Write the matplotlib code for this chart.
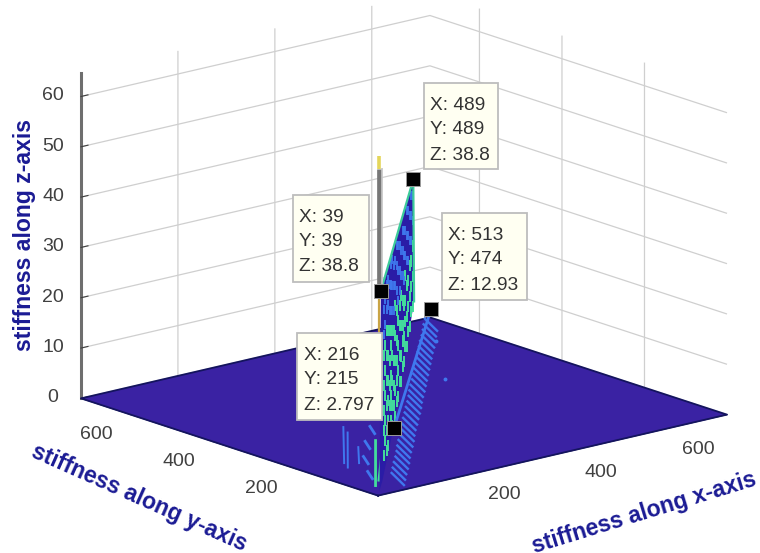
import matplotlib
matplotlib.use("Agg")
import matplotlib.pyplot as plt
from matplotlib.patches import Rectangle
from mpl_toolkits.mplot3d import proj3d
from mpl_toolkits.mplot3d.art3d import Poly3DCollection
import numpy as np

# ---------- data ----------
x_limits = [0, 720]
y_limits = [0, 720]
z_limits = [0, 64.6]
x_ticks = [200, 400, 600]
y_ticks = [200, 400, 600]
z_ticks = [0, 10, 20, 30, 40, 50, 60]

tip_x = [489, 513, 39, 216]
tip_y = [489, 474, 39, 215]
tip_z = ["38.8", "12.93", "38.8", "2.797"]
tip_z_val = [38.8, 12.93, 38.8, 2.797]

# diagonal sheet (x = y = t): outline
sheet_t = [20, 39, 489, 500, 216, 60]
sheet_z = [0, 38.8, 38.8, 14, 3, 0]

# dashes on the sheet
green_t = [80]*5 + [100]*5 + [120]*6 + [140]*6 + [160]*5 + [180]*5 + [200]*5 + [220]*5 + [240]*5 + [260]*5 + [280]*4 + [300]*4 + [320]*4 + [340]*4 + [360]*3 + [380]*4 + [400]*3 + [420]*3 + [440]*3 + [460]*3 + [480]*3
green_z = [4, 9, 13, 18, 24,  6, 10, 15, 20, 25,  3, 7, 12, 17, 22, 27,  3, 8, 12, 16, 21, 26,
           5, 10, 14, 19, 25,  6, 11, 15, 21, 24,  4, 8, 13, 18, 23,  3, 7, 11, 16, 22,
           4, 9, 15, 20, 26,  6, 10, 14, 18, 24,  6, 11, 16, 21,  8, 13, 19, 23,  7, 12, 18, 24,
           9, 14, 17, 22,  9, 14, 20,  11, 16, 20, 25,  10, 16, 22,  12, 17, 22,  12, 18, 24,
           14, 19, 24,  14, 20, 26]
blue_t = [80]*2 + [100]*2 + [120]*2 + [140]*2 + [160]*2 + [180]*3 + [200]*3 + [220]*3 + [240]*2 + [260]*3 + [280]*3 + [300]*3 + [320]*2 + [340]*3 + [360]*3 + [380]*2 + [400]*3 + [420]*3 + [440]*2 + [460]*3 + [480]*2
blue_z = [28, 33,  29, 34,  31, 36,  31, 36,  29, 34,  28, 33, 37,  27, 32, 37,  26, 31, 35,
          30, 35,  28, 33, 37,  25, 31, 36,  26, 30, 35,  28, 33,  27, 32, 36,  25, 30, 35,
          29, 34,  27, 32, 37,  26, 31, 36,  29, 34,  28, 33, 37,  31, 36]

# spike near the front corner
spike_t = [20, 20]
spike_gray_z = [38.8, 64]
spike_tip_z = [64, 66.5]

# ridge through two of the marked points
ridge_x = [513, 216]
ridge_y = [474, 215]
ridge_z = [12.93, 2.797]

# light dashes on the floor, right of the sheet
band_x = [694, 672, 651, 629, 607, 585, 564, 542, 520, 498, 477, 455, 433, 411, 390, 368, 346, 324,
          302, 280, 259, 237, 215, 193, 172, 150, 128, 106, 85]
band_y = [687, 664, 641, 618, 596, 573, 551, 528, 505, 482, 460, 437, 415, 392, 369, 346, 324, 301,
          279, 256, 233, 210, 188, 165, 142, 119, 97, 74, 52]
# light dashes left of the sheet
left_x = [235, 174, 116, 66]
left_y = [290, 230, 166, 97]
# straight streaks on the floor (start x, start y, end x, end y)
streak_x0 = [211, 196, 155]
streak_y0 = [332, 304, 230]
streak_x1 = [79, 67, 97]
streak_y1 = [175, 152, 160]
green_x0 = [200, 211]
green_y0 = [241, 235]
green_x1 = [34, 58]
green_y1 = [46, 66]
dot_x = [511, 640]
dot_y = [439, 612]

# ---------- colours ----------
FLOOR = "#3A22A3"
BODY = "#2A1CA6"
GREEN = "#43DE9C"
LIGHT = "#3F78EE"
LABEL = "#1B1B94"
TICK = "#404040"
GRID = "#CFCFCF"

plt.rcParams["font.family"] = ["Liberation Sans", "DejaVu Sans"]
W, H = 760, 553
fig = plt.figure(figsize=(W / 100, H / 100), dpi=100)
ax = fig.add_axes([0.1, 0.1, 0.6, 0.6 * W / H], projection="3d", computed_zorder=False)
ax.set_proj_type("ortho")
ax.view_init(elev=16, azim=-130.1)
ax.set_box_aspect((456, 461, 338))
ax.set_xlim(*x_limits)
ax.set_ylim(*y_limits)
ax.set_zlim(*z_limits)
ax.set_xticks(x_ticks)
ax.set_yticks(y_ticks)
ax.set_zticks(z_ticks)

for axis in (ax.xaxis, ax.yaxis, ax.zaxis):
    axis.set_pane_color((1, 1, 1, 0))
    axis.pane.set_edgecolor((1, 1, 1, 0))
    axis._axinfo["grid"].update(color=GRID, linewidth=0.9)
    axis._axinfo["tick"].update(inward_factor=0.0, outward_factor=0.25)
    axis._axinfo["tick"]["color"] = "#404040"
    axis.line.set_color("#202060")
ax.zaxis.line.set_color("#6E6E6E")
ax.zaxis.line.set_linewidth(2.2)
ax.tick_params(axis="x", labelsize=14, colors=TICK, pad=18)
ax.tick_params(axis="y", labelsize=14, colors=TICK, pad=18)
ax.tick_params(axis="z", labelsize=14, colors=TICK, pad=3.5)
for lab in ax.get_zticklabels():
    lab.set_va("center")

# floor
fx, fy = np.meshgrid(x_limits, y_limits)
ax.plot_surface(fx, fy, np.zeros_like(fx, dtype=float), color=FLOOR, shade=False,
                linewidth=0, antialiased=True, zorder=2)
ax.plot([x_limits[0], x_limits[1], x_limits[1], x_limits[0], x_limits[0]],
        [y_limits[0], y_limits[0], y_limits[1], y_limits[1], y_limits[0]],
        [0, 0, 0, 0, 0], color="#14145E", lw=1.3, zorder=2.1)

# floor streaks and dashes
for a, b, c, d in zip(streak_x0, streak_y0, streak_x1, streak_y1):
    ax.plot([a, c], [b, d], [0, 0], color=LIGHT, lw=1.4, zorder=3)
for x, y in zip(band_x, band_y):
    ax.plot([x + 17, x - 17], [y + 37, y - 37], [0, 0], color=LIGHT, lw=1.7,
            solid_capstyle="butt", zorder=3)
for x, y in zip(left_x, left_y):
    ax.plot([x + 14, x - 14], [y + 24, y - 24], [0, 0], color=LIGHT, lw=2.0,
            solid_capstyle="butt", zorder=3)
ax.plot(dot_x, dot_y, [0, 0], ls="none", marker="o", ms=1.8, color=LIGHT, zorder=3)
for a, b, c, d in zip(green_x0, green_y0, green_x1, green_y1):
    ax.plot([a, c], [b, d], [0, 0], color=GREEN, lw=2.0, zorder=3)

# sheet
verts = [list(zip(sheet_t, sheet_t, sheet_z))]
ax.add_collection3d(Poly3DCollection(verts, facecolor=BODY, edgecolor="none", zorder=4))
for t, z in zip(green_t, green_z):
    ax.plot([t, t], [t, t], [z - 1.1, z + 1.1], color=GREEN, lw=1.4, solid_capstyle="butt", zorder=5)
for t, z in zip(blue_t, blue_z):
    ax.plot([t, t], [t, t], [z - 0.9, z + 0.9], color=LIGHT, lw=1.3, solid_capstyle="butt", zorder=5)
ax.plot(sheet_t[1:4], sheet_t[1:4], sheet_z[1:4], color="#3CCB9A", lw=1.6, zorder=5.5)
ax.plot(ridge_x, ridge_y, ridge_z, color=LIGHT, lw=2.0, zorder=5.5)

# spike
ax.plot(spike_t, spike_t, spike_gray_z, color="#777777", lw=3.4, solid_capstyle="butt", zorder=6)
ax.plot([26, 26], [20, 20], spike_gray_z, color="#C4C4C4", lw=1.2, solid_capstyle="butt", zorder=6)
ax.plot(spike_t, spike_t, spike_tip_z, color="#E4D65A", lw=2.6, solid_capstyle="butt", zorder=6)
ax.plot([20, 20], [20, 20], [30, 38.8], color="#C9A445", lw=1.6, zorder=6)

# data tip markers
ax.plot(tip_x, tip_y, tip_z_val, ls="none", marker="s", ms=9.6, mfc="black", mec="#9A9A9A",
        mew=0.7, zorder=8)

# axis labels
lab_font = dict(fontsize=16.6, fontweight="bold", color=LABEL)
ax.set_xlabel("stiffness along x-axis", rotation=17, labelpad=0, **lab_font)
ax.set_ylabel("stiffness along y-axis", rotation=-24, labelpad=0, **lab_font)
ax.set_zlabel("stiffness along z-axis", rotation=90, labelpad=0, **lab_font)
ax.xaxis.set_rotate_label(False)
ax.yaxis.set_rotate_label(False)
ax.zaxis.set_rotate_label(False)

# place the axes so the box corners land where they do in the picture
corner_xyz = np.array([[0, 720, 720], [720, 0, 0], [0, 720, 0], [0, 0, 0]], dtype=float)


def corners_display():
    fig.canvas.draw()
    u, v, _ = proj3d.proj_transform(corner_xyz[:, 0], corner_xyz[:, 1], [0, 0, 0, 0], ax.get_proj())
    return ax.transData.transform(np.column_stack([u, v]))


for _ in range(3):
    pts = corners_display()
    pos = ax.get_position()
    side = pos.width * W
    tl = np.array([81, H - 398.0])
    tr = np.array([727, H - 415.0])
    scale = (tr[0] - tl[0]) / (pts[1, 0] - pts[2, 0])
    new_side = side * scale
    cx = pos.x0 * W + side / 2
    cy = pos.y0 * H + side / 2
    mid_now = (pts[1] + pts[2]) / 2
    new_mid = np.array([cx, cy]) + (mid_now - np.array([cx, cy])) * scale
    shift = (tl + tr) / 2 - new_mid
    cx += shift[0]
    cy += shift[1]
    ax.set_position([(cx - new_side / 2) / W, (cy - new_side / 2) / H, new_side / W, new_side / H])

fig.canvas.draw()

# 3D axes only offer a pad along the tick direction, so nudge labels in pixels at draw time
inv = ax.transData.inverted()


def nudged(label, dx, dy):
    original = label.draw
    ox, oy = inv.transform((dx, dy)) - inv.transform((0, 0))

    def draw(renderer):
        x, y = label.get_position()
        label.set_position((x + ox, y + oy))
        original(renderer)

    return draw


for axis in (ax.xaxis, ax.yaxis):
    for tick in axis.get_major_ticks():
        tick.label1.draw = nudged(tick.label1, 0, 28)
ax.xaxis.label.draw = nudged(ax.xaxis.label, 68, -24)
ax.yaxis.label.draw = nudged(ax.yaxis.label, -63, -19)
ax.zaxis.label.draw = nudged(ax.zaxis.label, -6, 0)


def box(x0, y0, x1, y1, xv, yv, zv, tx):
    fig.add_artist(Rectangle((x0 / W, 1 - y1 / H), (x1 - x0) / W, (y1 - y0) / H,
                             transform=fig.transFigure, facecolor="#FFFFF2",
                             edgecolor="#BDBDBD", linewidth=1.3, zorder=5))
    for i, s in enumerate((f"X: {xv}", f"Y: {yv}", f"Z: {zv}")):
        fig.text(tx / W, 1 - (y0 + 22 + 25 * i) / H, s, fontsize=13.8, color="#333333",
                 ha="left", va="center", zorder=6)


box(424, 83, 498, 169, tip_x[0], tip_y[0], tip_z[0], 430)
box(442, 213, 527, 300, tip_x[1], tip_y[1], tip_z[1], 448)
box(293, 195, 369, 282, tip_x[2], tip_y[2], tip_z[2], 299)
box(297, 333, 382, 420, tip_x[3], tip_y[3], tip_z[3], 304)

fig.savefig("out.png", dpi=100)
